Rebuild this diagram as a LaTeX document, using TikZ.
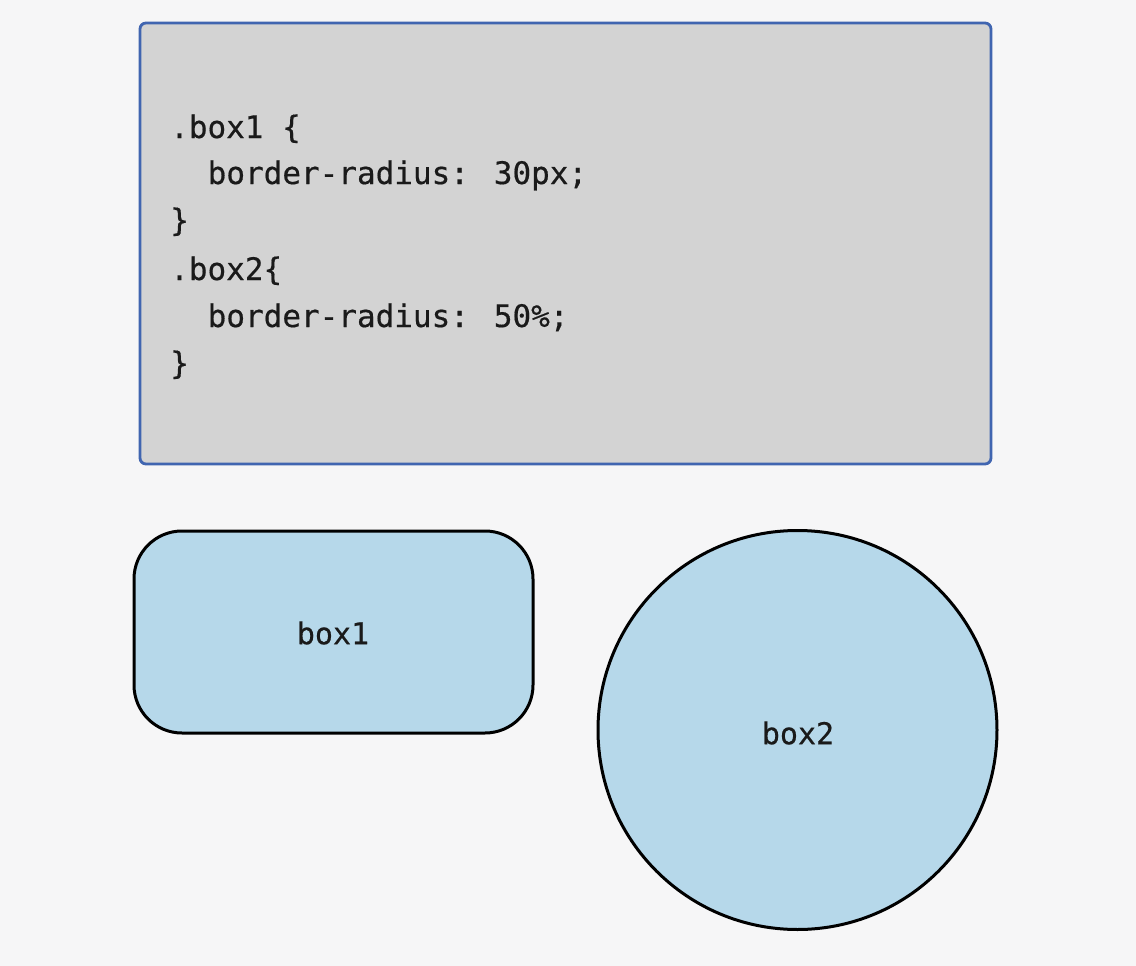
\documentclass[tikz,border=0pt]{standalone}
\usepackage{fontspec}
\newfontfamily\codefont{DejaVu Sans Mono}[FakeBold=0.5]
\definecolor{bgcol}{HTML}{F6F6F7}
\definecolor{panelfill}{HTML}{D3D3D3}
\definecolor{panelborder}{HTML}{4065B0}
\definecolor{boxfill}{HTML}{B6D8EA}
\definecolor{ink}{HTML}{1A1A1A}
\tikzset{
  codeline/.style={anchor=base west, inner sep=0pt, text=ink,
    font=\codefont\fontsize{31}{37}\selectfont},
  shapelabel/.style={inner sep=0pt, text=ink,
    font=\codefont\fontsize{30}{36}\selectfont},
  shapebox/.style={draw=black, line width=3pt, fill=boxfill}
}
\begin{document}
\begin{tikzpicture}[x=1pt,y=-1pt]
\useasboundingbox (0,0) rectangle (1136,966);
\fill[bgcol] (0,0) rectangle (1136,966);
% code panel
\draw[panelborder, line width=2.8pt, fill=panelfill, rounded corners=6pt]
  (140,23) rectangle (991,464);
\node[codeline] (l1) at (170,138) {.box1 \{};
\node[codeline] (l2) at (207.5,184) {border-radius: 30px;};
\node[codeline] (l3) at (170,231) {\}};
\node[codeline] (l4) at (170,280) {.box2\{};
\node[codeline] (l5) at (207.5,327) {border-radius: 50\%;};
\node[codeline] (l6) at (170,374) {\}};
% box1
\draw[shapebox, rounded corners=48pt] (134,531) rectangle (533,733);
\node[shapelabel] (b1) at (333,633) {box1};
% box2
\draw[shapebox] (797.5,730) circle (199.5);
\node[shapelabel] (b2) at (798,733) {box2};
\end{tikzpicture}
\end{document}
